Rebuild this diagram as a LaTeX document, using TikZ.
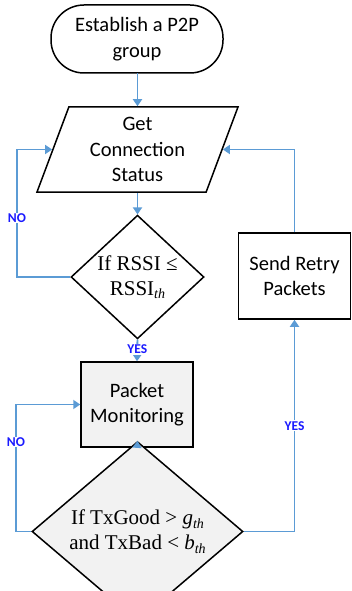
\documentclass[tikz,border=0pt]{standalone}
\usepackage{fontspec}
\setmainfont{Carlito}
\newfontfamily\tnr{Liberation Serif}
\usetikzlibrary{arrows.meta,shapes.geometric}
\definecolor{lineblue}{HTML}{5B9BD5}
\definecolor{lblblue}{HTML}{1A1AFF}
\definecolor{boxgray}{HTML}{F2F2F2}
\newcommand\subth{\raisebox{-0.35ex}{\fontsize{14}{14}\selectfont\textit{th}}}
\tikzset{
  base/.style={draw=black, line width=1.5pt, align=center, inner sep=0pt,
    font=\fontsize{20.5}{25.5}\selectfont},
  termbox/.style={base, rectangle, rounded corners=33pt, minimum width=172pt, minimum height=68pt},
  iobox/.style={base, trapezium, trapezium left angle=63.7, trapezium right angle=116.3,
    trapezium stretches body, minimum width=201pt, minimum height=85pt},
  procbox/.style={base, rectangle, minimum width=112pt, minimum height=85pt},
  decbox/.style={base, diamond, font=\tnr\fontsize{21}{25}\selectfont},
  conn/.style={draw=lineblue, line width=1.9pt, -{Triangle[length=7pt,width=9pt]}},
  lbl/.style={fill=white, inner sep=1pt, text=lblblue, font=\bfseries\fontsize{13.5}{13.5}\selectfont}
}
\begin{document}
\begin{tikzpicture}[x=1pt,y=-1pt]
\useasboundingbox (0,0) rectangle (351,591);
\node[termbox] (start) at (137,39) {Establish a P2P\\group};
\node[iobox] (gcs) at (137.5,149.5) {Get\\Connection\\Status};
\node[decbox, minimum width=133pt, minimum height=111pt] (d1) at (137.5,277) {If RSSI ≤\\RSSI\subth};
\node[procbox, fill=boxgray] (pm) at (137,404.5) {Packet\\Monitoring};
\node[decbox, fill=boxgray, minimum width=211pt, minimum height=111pt] (d2) at (137.5,531.5) {If TxGood \textgreater{} \textit{g}\subth\\and TxBad \textless{} \textit{b}\subth};
\node[procbox, minimum height=86pt] (sr) at (294.5,276) {Send Retry\\Packets};
\coordinate (l1) at (17,0);
\coordinate (l2) at (16,0);
\draw[conn] (start.south) -- (d1.north |- start.south) -- (d1.north |- gcs.north);
\draw[conn] (d1.north |- gcs.south) -- (d1.north);
\draw[conn] (d1.west) -- (d1.west -| l1) -- (gcs.west -| l1) -- (gcs.west);
\node[lbl] at (17,218) {NO};
\draw[conn] (d1.south) -- (pm.north) node[lbl, pos=0.45] {YES};
\draw[conn] (pm.south) -- (d2.north);
\draw[conn] (d2.west) -- (d2.west -| l2) -- (pm.west -| l2) -- (pm.west);
\node[lbl] at (16,442) {NO};
\draw[conn] (d2.east) -- (d2.east -| sr.south) -- (sr.south) node[lbl, pos=0.5] {YES};
\draw[conn] (sr.north) -- (sr.north |- gcs.east) -- (gcs.east);
\end{tikzpicture}
\end{document}
